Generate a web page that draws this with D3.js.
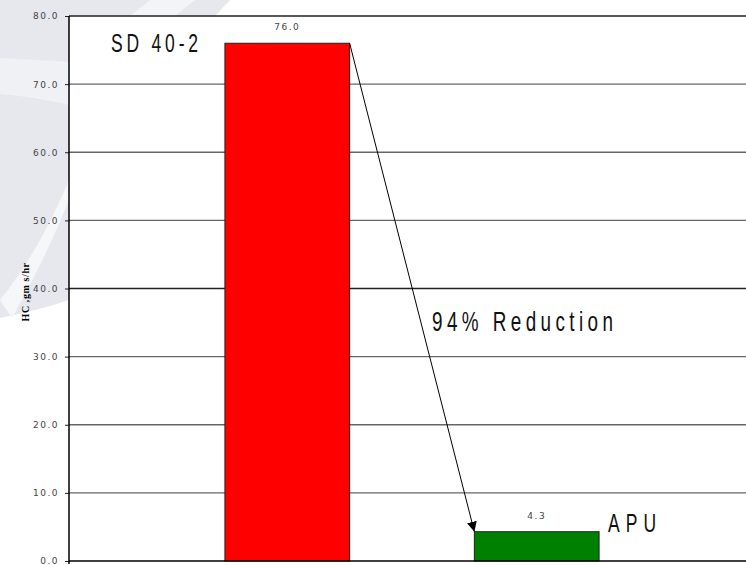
<!DOCTYPE html>
<html>
<head>
<meta charset="utf-8">
<script src="https://cdn.jsdelivr.net/npm/d3@7/dist/d3.min.js"></script>
<style>
  html, body { margin: 0; padding: 0; background: #fff; }
  svg { display: block; }
  .tick text { font-family: "DejaVu Sans", sans-serif; font-size: 9px; fill: #444; }
  .big { font-family: "Liberation Sans", sans-serif; fill: #111; }
  .val { font-family: "DejaVu Sans", sans-serif; font-size: 9px; fill: #444; }
</style>
</head>
<body>
<div id="chart"></div>
<script>
var categories = ['SD40-2', 'APU'];
var values = [76.0, 4.3];
var colors = ['#ff0000', '#008000'];
var yTicks = [0, 10, 20, 30, 40, 50, 60, 70, 80];
var yLabel = 'HC ,gm s/hr';
var note = '94% Reduction';

var width = 746, height = 565;
var plotLeft = 69, plotTop = 16, plotBottom = 561;
var squeeze = 0.7;

var svg = d3.select('#chart').append('svg')
  .attr('width', width)
  .attr('height', height);

// faint watermark behind the chart
var wm = svg.append('g');
wm.append('path')
  .attr('d', 'M0,0 L230,0 L215,16 L69,16 L69,300 Q40,310 0,318 Z')
  .style('fill', '#e6e8ee');
wm.append('path')
  .attr('d', 'M0,58 Q40,60 69,62 L69,105 Q30,96 0,94 Z')
  .style('fill', '#f0f1f5');
wm.append('path')
  .attr('d', 'M0,300 Q40,250 69,180 L69,200 Q45,260 12,318 Z')
  .style('fill', '#f6f7f9');
wm.append('path')
  .attr('d', 'M150,0 L195,0 L175,16 L130,16 Z')
  .style('fill', '#f3f4f7');

// plot area
svg.append('rect')
  .attr('x', plotLeft).attr('y', plotTop)
  .attr('width', width - plotLeft).attr('height', plotBottom - plotTop)
  .style('fill', '#fff');

var y = d3.scaleLinear().domain([0, 80]).range([plotBottom, plotTop]);
var x = d3.scaleBand().domain(categories)
  .range([plotLeft, 755])
  .paddingInner(0.5)
  .paddingOuter(0.625);

// grid lines
svg.append('g').selectAll('line')
  .data(yTicks.filter(function(d) { return d > 0; }))
  .enter().append('line')
  .attr('x1', plotLeft).attr('x2', width)
  .attr('y1', function(d) { return y(d); })
  .attr('y2', function(d) { return y(d); })
  .style('stroke', function(d) { return d === 40 || d === 80 ? '#222' : '#666'; })
  .style('stroke-width', 1.3);

// bars
svg.append('g').selectAll('rect')
  .data(values)
  .enter().append('rect')
  .attr('x', function(d, i) { return x(categories[i]); })
  .attr('y', function(d) { return y(d); })
  .attr('width', x.bandwidth())
  .attr('height', function(d) { return y(0) - y(d); })
  .style('fill', function(d, i) { return colors[i]; })
  .style('stroke', '#222')
  .style('stroke-width', 1);

// value labels
svg.append('g').selectAll('text')
  .data(values)
  .enter().append('text')
  .attr('class', 'val')
  .attr('x', function(d, i) { return x(categories[i]) + x.bandwidth() / 2; })
  .attr('y', function(d) { return y(d) - 13; })
  .attr('text-anchor', 'middle')
  .style('letter-spacing', '1.5px')
  .text(function(d) { return d.toFixed(1); });

// y axis
var yAxis = d3.axisLeft(y)
  .tickValues(yTicks)
  .tickSize(4)
  .tickFormat(d3.format('.1f'));
var ga = svg.append('g')
  .attr('transform', 'translate(' + plotLeft + ',0)')
  .call(yAxis);
ga.select('.domain').remove();
ga.selectAll('.tick line').style('stroke', '#222');
ga.selectAll('.tick text').attr('x', -10).style('letter-spacing', '1.5px');
svg.append('line')
  .attr('x1', plotLeft).attr('x2', plotLeft)
  .attr('y1', plotTop).attr('y2', plotBottom + 3)
  .style('stroke', '#000').style('stroke-width', 1.5);
svg.append('line')
  .attr('x1', plotLeft).attr('x2', width)
  .attr('y1', plotBottom).attr('y2', plotBottom)
  .style('stroke', '#000').style('stroke-width', 1.5);

svg.append('text')
  .attr('transform', 'translate(29,' + y(39.5) + ') rotate(-90)')
  .attr('text-anchor', 'middle')
  .style('font-family', '"Liberation Serif", serif')
  .style('font-weight', 'bold')
  .style('font-size', '10px')
  .style('letter-spacing', '0.6px')
  .text(yLabel);

// narrow, widely spaced labels
function bigText(px, py, size, len, str) {
  svg.append('g')
    .attr('transform', 'translate(' + px + ',' + py + ') scale(' + squeeze + ',1)')
    .append('text').attr('class', 'big')
    .style('font-size', size + 'px')
    .attr('textLength', len / squeeze)
    .attr('lengthAdjust', 'spacing')
    .text(str);
}

bigText(111, 52, 25, 87, categories[0].replace('SD', 'SD '));
bigText(x(categories[1]) + x.bandwidth() + 9, y(values[1]), 25, 48, categories[1]);

// arrow
svg.append('defs').append('marker')
  .attr('id', 'ah')
  .attr('viewBox', '0 0 10 10')
  .attr('refX', 10).attr('refY', 5)
  .attr('markerWidth', 10).attr('markerHeight', 10)
  .attr('markerUnits', 'userSpaceOnUse')
  .attr('orient', 'auto')
  .append('path').attr('d', 'M0,0 L10,5 L0,10 Z').style('fill', '#000');

svg.append('line')
  .attr('x1', x(categories[0]) + x.bandwidth()).attr('y1', y(values[0]))
  .attr('x2', x(categories[1])).attr('y2', y(values[1]))
  .style('stroke', '#000').style('stroke-width', 1)
  .attr('marker-end', 'url(#ah)');

bigText(432, 331, 27, 181, note);
</script>
</body>
</html>
